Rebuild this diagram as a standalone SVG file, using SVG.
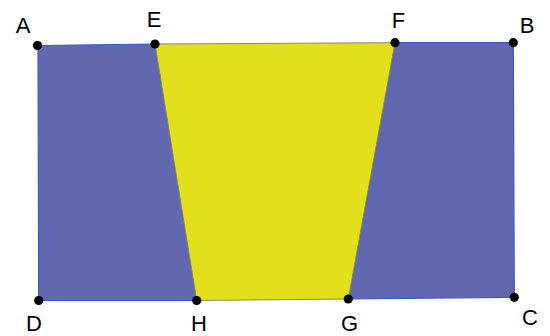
<svg xmlns="http://www.w3.org/2000/svg" width="550" height="336" viewBox="0 0 550 336">
<style>
.blue{fill:#6268b0;stroke:#3f56c4;stroke-width:1.2}
.yellow{fill:#e2e01c;stroke:#8a8a5a;stroke-width:1}
.pt{fill:#000}
.lbl{font-family:"Liberation Sans",Arial,sans-serif;font-size:22px;fill:#000;text-anchor:middle}
</style>
<rect width="550" height="336" fill="#fff"/>
<g id="left"><polygon class="blue" points="38,45.5 155,44 196.7,300.5 38.7,300.5"/></g>
<g id="right"><polygon class="blue" points="395,42.7 513.3,42.7 514.3,297.3 348.3,299"/></g>
<g id="middle"><polygon class="yellow" points="155,44 395,42.7 348.3,299 196.7,300.5"/></g>
<g id="points">
<g id="A"><circle class="pt" cx="37.5" cy="45.5" r="4.6"/><text class="lbl" x="23" y="33">A</text></g>
<g id="E"><circle class="pt" cx="155" cy="44" r="4.6"/><text class="lbl" x="154" y="27">E</text></g>
<g id="F"><circle class="pt" cx="395" cy="42.7" r="4.6"/><text class="lbl" x="398.5" y="28">F</text></g>
<g id="B"><circle class="pt" cx="513.3" cy="42.7" r="4.6"/><text class="lbl" x="527" y="33">B</text></g>
<g id="D"><circle class="pt" cx="38.7" cy="300.5" r="4.6"/><text class="lbl" x="34" y="331">D</text></g>
<g id="H"><circle class="pt" cx="196.7" cy="300.5" r="4.6"/><text class="lbl" x="199" y="331">H</text></g>
<g id="G"><circle class="pt" cx="348.3" cy="299" r="4.6"/><text class="lbl" x="349.5" y="330.5">G</text></g>
<g id="C"><circle class="pt" cx="514.3" cy="297.3" r="4.6"/><text class="lbl" x="530" y="325">C</text></g>
</g>
</svg>
